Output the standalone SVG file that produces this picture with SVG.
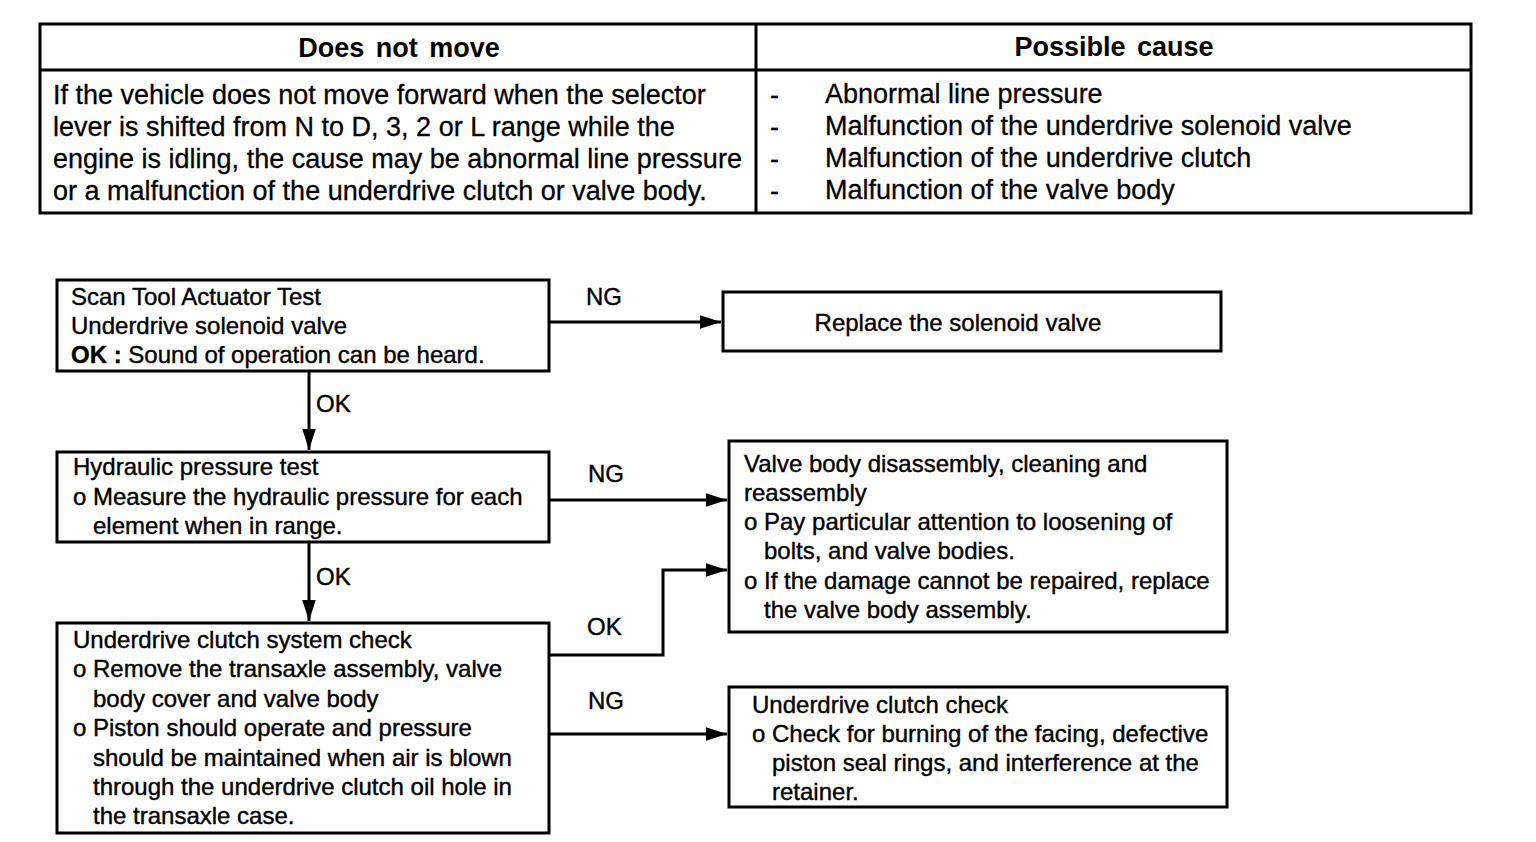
<svg xmlns="http://www.w3.org/2000/svg" width="1536" height="842" viewBox="0 0 1536 842">
<style>
text{font-family:"Liberation Sans",Arial,sans-serif;fill:#000}
.t{font-size:27px;stroke:#000;stroke-width:0.3}
.h{font-size:27px;font-weight:bold;word-spacing:4px}
.f{font-size:24px;stroke:#000;stroke-width:0.4}
.lb{font-size:24px;stroke:#000;stroke-width:0.4}
.box{fill:#fff;stroke:#000;stroke-width:3}
.ln{fill:none;stroke:#000;stroke-width:3}
.c{fill:none;stroke:#000;stroke-width:3}
</style>
<defs>
<marker id="ah" viewBox="0 0 10 10" refX="10" refY="5" markerWidth="7" markerHeight="4.5" markerUnits="strokeWidth" orient="auto" preserveAspectRatio="none">
<path d="M0,0 L10,5 L0,10 z" fill="#000"/>
</marker>
</defs>
<rect width="1536" height="842" fill="#fff"/>
<g id="table">
<rect x="40" y="24" width="1431" height="189" class="ln"/>
<line x1="40" y1="70" x2="1471" y2="70" class="ln"/>
<line x1="756" y1="24" x2="756" y2="213" class="ln"/>
<text x="399" y="57" class="h" text-anchor="middle">Does not move</text>
<text x="1114" y="56" class="h" text-anchor="middle">Possible cause</text>
<text x="53" y="104" class="t">If the vehicle does not move forward when the selector</text>
<text x="53" y="136" class="t">lever is shifted from N to D, 3, 2 or L range while the</text>
<text x="53" y="168" class="t">engine is idling, the cause may be abnormal line pressure</text>
<text x="53" y="200" class="t">or a malfunction of the underdrive clutch or valve body.</text>
<text x="770" y="104" class="t">-</text>
<text x="770" y="136" class="t">-</text>
<text x="770" y="168" class="t">-</text>
<text x="770" y="200" class="t">-</text>
<text x="825" y="103" class="t">Abnormal line pressure</text>
<text x="825" y="135" class="t">Malfunction of the underdrive solenoid valve</text>
<text x="825" y="167" class="t">Malfunction of the underdrive clutch</text>
<text x="825" y="199" class="t">Malfunction of the valve body</text>
</g>
<g id="n1">
<rect x="57" y="280" width="492" height="91" class="box"/>
<text x="71" y="305" class="f">Scan Tool Actuator Test</text>
<text x="71" y="334" class="f">Underdrive solenoid valve</text>
<text x="71" y="363" class="f"><tspan font-weight="bold">OK :</tspan> Sound of operation can be heard.</text>
</g>
<g id="n2">
<rect x="723" y="292" width="498" height="59" class="box"/>
<text x="958" y="331" class="f" text-anchor="middle">Replace the solenoid valve</text>
</g>
<g id="n3">
<rect x="57" y="452" width="492" height="90" class="box"/>
<text x="73" y="475" class="f">Hydraulic pressure test</text>
<text x="73" y="505" class="f">o Measure the hydraulic pressure for each</text>
<text x="93" y="534" class="f">element when in range.</text>
</g>
<g id="n4">
<rect x="729" y="441" width="498" height="191" class="box"/>
<text x="744" y="472" class="f">Valve body disassembly, cleaning and</text>
<text x="744" y="501" class="f">reassembly</text>
<text x="744" y="530" class="f">o Pay particular attention to loosening of</text>
<text x="764" y="559" class="f">bolts, and valve bodies.</text>
<text x="744" y="589" class="f">o If the damage cannot be repaired, replace</text>
<text x="764" y="618" class="f">the valve body assembly.</text>
</g>
<g id="n5">
<rect x="57" y="623" width="492" height="210" class="box"/>
<text x="73" y="648" class="f">Underdrive clutch system check</text>
<text x="73" y="677" class="f">o Remove the transaxle assembly, valve</text>
<text x="93" y="707" class="f">body cover and valve body</text>
<text x="73" y="736" class="f">o Piston should operate and pressure</text>
<text x="93" y="766" class="f">should be maintained when air is blown</text>
<text x="93" y="795" class="f">through the underdrive clutch oil hole in</text>
<text x="93" y="824" class="f">the transaxle case.</text>
</g>
<g id="n6">
<rect x="729" y="687" width="498" height="120" class="box"/>
<text x="752" y="713" class="f">Underdrive clutch check</text>
<text x="752" y="742" class="f">o Check for burning of the facing, defective</text>
<text x="772" y="771" class="f">piston seal rings, and interference at the</text>
<text x="772" y="800" class="f">retainer.</text>
</g>
<g id="connectors">
<line x1="549" y1="322" x2="721" y2="322" class="c" marker-end="url(#ah)"/>
<text x="586" y="305" class="lb">NG</text>
<line x1="309" y1="371" x2="309" y2="450" class="c" marker-end="url(#ah)"/>
<text x="316" y="412" class="lb">OK</text>
<line x1="549" y1="500" x2="727" y2="500" class="c" marker-end="url(#ah)"/>
<text x="588" y="482" class="lb">NG</text>
<line x1="309" y1="542" x2="309" y2="621" class="c" marker-end="url(#ah)"/>
<text x="316" y="585" class="lb">OK</text>
<polyline points="549,655 663,655 663,570 727,570" class="c" marker-end="url(#ah)"/>
<text x="587" y="635" class="lb">OK</text>
<line x1="549" y1="734" x2="727" y2="734" class="c" marker-end="url(#ah)"/>
<text x="588" y="709" class="lb">NG</text>
</g>
</svg>
